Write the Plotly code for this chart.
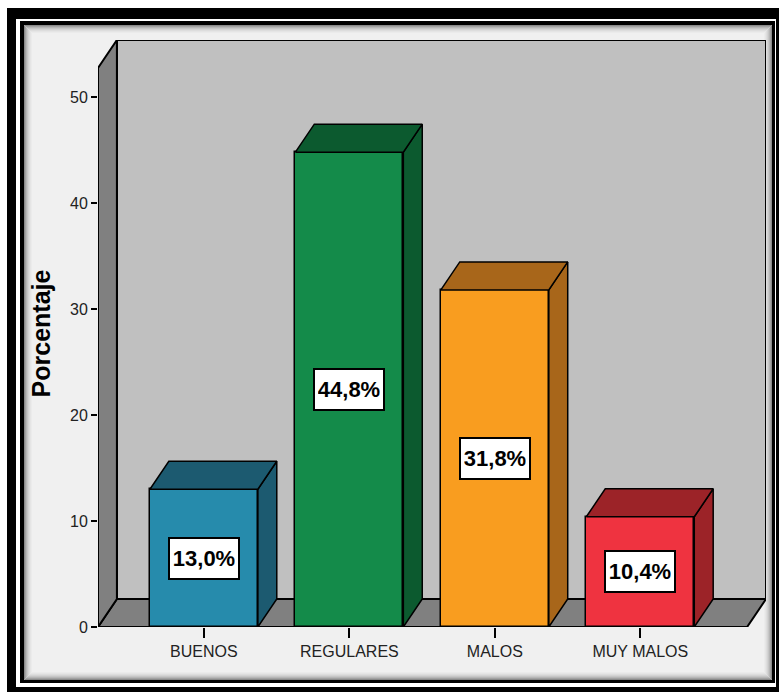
import plotly.graph_objects as go

# ---- data ----
categories = ["BUENOS", "REGULARES", "MALOS", "MUY MALOS"]
percentages = [13.0, 44.8, 31.8, 10.4]
labels = ["13,0%", "44,8%", "31,8%", "10,4%"]
y_ticks = [0, 10, 20, 30, 40, 50]

# ---- style ----
front_colors = ["#268bac", "#148b4a", "#f99d1f", "#ef3340"]
dark_colors = ["#1c5a70", "#0c5a2f", "#a8661a", "#9c2328"]
WALL_BACK = "#c0c0c0"
WALL_SIDE = "#808080"
BG = "#f0f0f0"

# geometry of the 3D box (data units)
X0, X1 = -0.728, 3.734      # front floor edge (x)
DX, DY = 0.13, 2.64         # depth offset
YTOP = 52.74                # height of the walls (front)
W = 0.371                   # half bar width

W_PX, H_PX = 779, 692
ML, MR, MT, MB = 98, 13, 40, 65
PW = W_PX - ML - MR
PH = H_PX - MT - MB


def px(x):
    return (x - ML) / PW


def py(y):
    return (H_PX - MB - y) / PH


fig = go.Figure()

shapes = []
# ---- frame (paper) ----
def prect(x0, y0, x1, y1, fill=None, line=None, lw=0):
    d = dict(type="rect", xref="paper", yref="paper", layer="below",
             x0=px(x0), x1=px(x1), y0=py(y1), y1=py(y0),
             line=dict(width=lw, color=line or "rgba(0,0,0,0)"))
    if fill:
        d["fillcolor"] = fill
    return d

shapes.append(prect(7, 8, 790, 700, fill="black"))
shapes.append(prect(16, 19, 776, 687, fill="white"))
shapes.append(prect(20, 21, 775, 683, fill="black"))
shapes.append(prect(24, 25, 772, 680, fill=BG))
shade = ["#8a8a8a", "#a2a2a2", "#b6b6b6", "#c6c6c6", "#d3d3d3", "#dddddd", "#e5e5e5", "#ebebeb"]
for k, c in enumerate(shade):
    shapes.append(prect(24.5 + k, 25.5 + k, 771.5 - k, 679.5 - k, line=c, lw=1))

# ---- walls (data coords) ----
def poly(pts, fill, lw=2):
    path = "M " + " L ".join(f"{x},{y}" for x, y in pts) + " Z"
    return dict(type="path", xref="x", yref="y", layer="below", path=path,
                fillcolor=fill, line=dict(color="black", width=lw))

shapes.append(poly([(X0 + DX, DY), (X1 + DX, DY), (X1 + DX, YTOP + DY), (X0 + DX, YTOP + DY)], WALL_BACK))
shapes.append(poly([(X0, 0), (X1, 0), (X1 + DX, DY), (X0 + DX, DY)], WALL_SIDE))
shapes.append(poly([(X0, 0), (X0, YTOP), (X0 + DX, YTOP + DY), (X0 + DX, DY)], WALL_SIDE))

# ---- bars ----
xs = list(range(len(categories)))
fig.add_trace(go.Bar(
    x=xs, y=percentages, width=2 * W,
    marker=dict(color=front_colors, line=dict(color="black", width=1.5)),
    hoverinfo="skip", showlegend=False,
))
for i, v in enumerate(percentages):
    # side face
    fig.add_trace(go.Scatter(
        x=[i + W, i + W + DX, i + W + DX, i + W, i + W],
        y=[0, DY, v + DY, v, 0],
        mode="lines", fill="toself", fillcolor=dark_colors[i],
        line=dict(color="black", width=1.5), hoverinfo="skip", showlegend=False))
    # top face
    fig.add_trace(go.Scatter(
        x=[i - W, i + W, i + W + DX, i - W + DX, i - W],
        y=[v, v, v + DY, v + DY, v],
        mode="lines", fill="toself", fillcolor=dark_colors[i],
        line=dict(color="black", width=1.5), hoverinfo="skip", showlegend=False))

annotations = []
for i, (v, t) in enumerate(zip(percentages, labels)):
    annotations.append(dict(
        x=i, y=v / 2, xref="x", yref="y", text=f"<b>{t}</b>", showarrow=False,
        font=dict(family="Liberation Sans, Arial, sans-serif", size=22, color="black"),
        bgcolor="white", bordercolor="black", borderwidth=2, borderpad=3,
        width=62, height=33, align="center"))

fig.update_layout(
    width=W_PX, height=H_PX,
    margin=dict(l=ML, r=MR, t=MT, b=MB),
    paper_bgcolor="white", plot_bgcolor="rgba(0,0,0,0)",
    shapes=shapes, annotations=annotations,
    bargap=0, showlegend=False,
    font=dict(family="Liberation Sans, Arial, sans-serif", color="#222"),
)
fig.update_xaxes(
    range=[X0, X1 + DX], tickvals=xs, ticktext=categories,
    ticks="outside", ticklen=10, tickwidth=1.5, tickcolor="black",
    showgrid=False, zeroline=False, showline=False,
    tickfont=dict(size=16, color="#222"),
)
fig.update_yaxes(
    range=[0, YTOP + DY], tickvals=y_ticks,
    ticks="outside", ticklen=6, tickwidth=1.5, tickcolor="black",
    showgrid=False, zeroline=False, showline=False,
    tickfont=dict(size=16, color="#222"),
    title=dict(text="<b>Porcentaje</b>", font=dict(size=25, color="black"), standoff=12),
)

fig.write_html("out.html")
